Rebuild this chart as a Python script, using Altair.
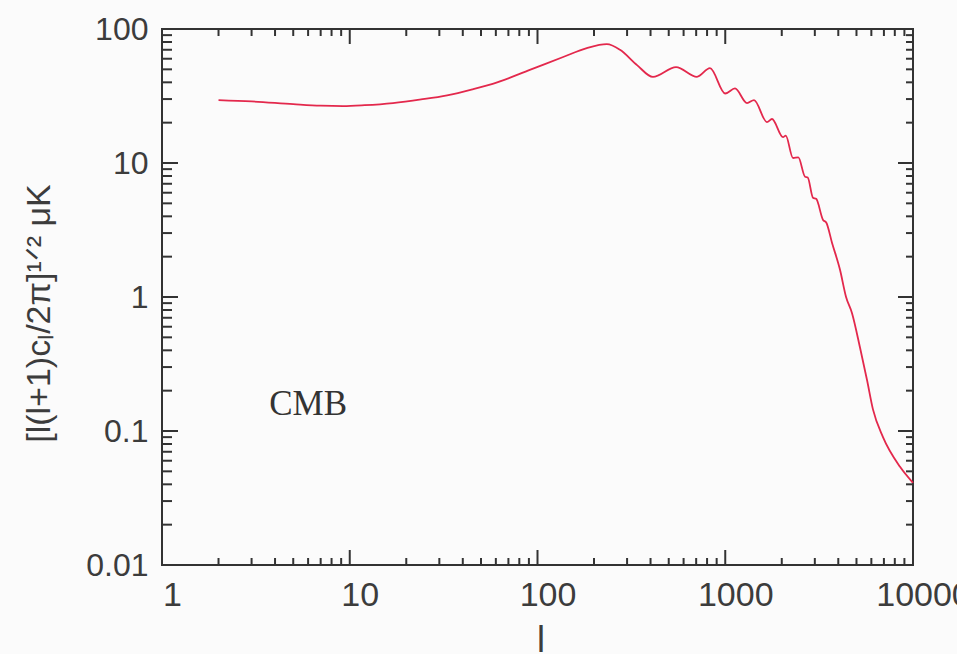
import altair as alt
import pandas as pd

# multipole l and amplitude [l(l+1)c_l/2pi]^(1/2) in microK
ell = [2, 3, 5, 7, 9.2, 12, 17, 24, 33, 45, 61, 91, 137, 183, 234, 275, 339, 412,
       547, 707, 829, 1000, 1127, 1306, 1423, 1668, 1774, 2031, 2100, 2296, 2450,
       2661, 2750, 2933, 3050, 3318, 3450, 3706, 4088, 4400, 4730, 5220, 5690,
       6120, 6920, 8530, 10000]
amp = [29.5, 28.8, 27.5, 26.8, 26.6, 27.0, 28.0, 29.8, 32.0, 35.5, 40.0, 49.5,
       61.8, 72.0, 77.0, 70.0, 53.8, 43.9, 52.0, 44.0, 51.0, 33.0, 36.0, 28.0,
       29.5, 20.2, 21.3, 15.6, 16.0, 10.9, 11.0, 7.9, 7.8, 5.5, 5.4, 3.76, 3.6,
       2.53, 1.59, 1.0, 0.76, 0.42, 0.24, 0.145, 0.09, 0.054, 0.041]

x_major = [1, 10, 100, 1000, 10000]
y_major = [0.01, 0.1, 1, 10, 100]
x_minor = [m * d for d in [1, 10, 100, 1000] for m in range(2, 10)]
y_minor = [m * d for d in [0.01, 0.1, 1, 10] for m in range(2, 10)]
x_title = "l"
y_title = "[l(l+1)cₗ/2π]¹ᐟ² μK"

W, H = 751, 536
AX = "#333333"
TXT = "#3c3c3c"

df = pd.DataFrame({"l": ell, "v": amp})
xs = alt.Scale(type="log", domain=[1, 10000], nice=False)
ys = alt.Scale(type="log", domain=[0.01, 100], nice=False)

base = alt.Chart(df)
line = base.mark_line(color="#e3284c", strokeWidth=1.8, interpolate="monotone").encode(
    x=alt.X("l:Q", scale=xs,
            axis=alt.Axis(values=x_major, format="~g", labelFontSize=34, labelColor=TXT,
                          labelFont="Liberation Sans", labelPadding=13, labelOffset=10, ticks=False,
                          grid=False, domain=False, labelFlush=False, labelOverlap=False,
                          title="")),
    y=alt.Y("v:Q", scale=ys,
            axis=alt.Axis(values=y_major, format="~g", labelFontSize=32, labelColor=TXT,
                          labelFont="Liberation Sans", labelPadding=14, ticks=False,
                          grid=False, domain=False, labelFlush=False, labelOverlap=False,
                          title=y_title, titleFont="Liberation Sans",
                          titleFontSize=34, titleFontWeight="normal", titleColor=TXT,
                          titleX=-123, titleY=284, titleAngle=270,
                          titleAlign="center", titleBaseline="middle")),
)

def tick_layer(vals, field, length, side):
    d = pd.DataFrame({field: vals})
    m = alt.Chart(d).mark_rule(color=AX, strokeWidth=2)
    if side == "bottom":
        return m.encode(x=alt.X(f"{field}:Q", scale=xs), y=alt.value(H), y2=alt.value(H - length))
    if side == "top":
        return m.encode(x=alt.X(f"{field}:Q", scale=xs), y=alt.value(0), y2=alt.value(length))
    if side == "left":
        return m.encode(y=alt.Y(f"{field}:Q", scale=ys), x=alt.value(0), x2=alt.value(length))
    return m.encode(y=alt.Y(f"{field}:Q", scale=ys), x=alt.value(W), x2=alt.value(W - length))

ticks = [
    tick_layer(x_major, "l", 15, "bottom"), tick_layer(x_minor, "l", 7, "bottom"),
    tick_layer(x_major, "l", 15, "top"), tick_layer(x_minor, "l", 7, "top"),
    tick_layer(y_major, "v", 16, "left"), tick_layer(y_minor, "v", 10, "left"),
    tick_layer(y_major, "v", 15, "right"), tick_layer(y_minor, "v", 7, "right"),
]

label = alt.Chart(pd.DataFrame({"l": [6.0], "v": [0.16], "t": ["CMB"]})).mark_text(
    font="Liberation Serif", fontSize=35, color="#333333", baseline="middle", align="center"
).encode(x=alt.X("l:Q", scale=xs), y=alt.Y("v:Q", scale=ys), text="t:N")

xtitle = alt.Chart(pd.DataFrame({"t": [x_title]})).mark_text(
    font="Liberation Sans", fontSize=36, color=TXT, baseline="alphabetic", align="center"
).encode(x=alt.value(379), y=alt.value(623), text="t:N")

chart = alt.layer(line, *ticks, label, xtitle).properties(
    width=W, height=H,
    autosize=alt.AutoSizeParams(type="none"),
    padding={"left": 162, "top": 29, "right": 44, "bottom": 89},
    background="#fbfbfb",
).configure_view(stroke=AX, strokeWidth=2)

chart.save("out.html", embed_options={"renderer": "svg", "actions": False})
